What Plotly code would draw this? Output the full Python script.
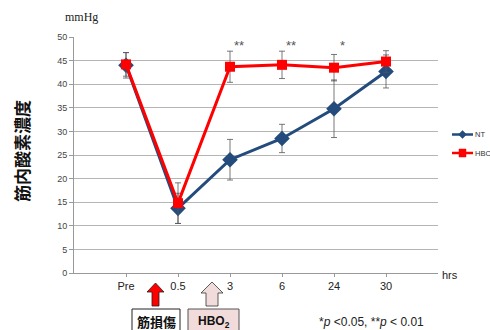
import plotly.graph_objects as go

W, H = 490, 330
L, R, T, B = 74, 52, 37, 57

categories = ["Pre", "0.5", "3", "6", "24", "30"]
nt_values = [44.0, 13.7, 24.0, 28.5, 34.8, 42.7]
nt_errors = [2.7, 3.2, 4.3, 3.0, 6.1, 3.5]
hbc_values = [44.2, 14.8, 43.7, 44.1, 43.5, 44.8]
hbc_errors = [2.5, 4.3, 3.3, 2.9, 2.8, 2.3]
sig_labels = ["", "", "**", "**", "*", ""]
y_ticks = [0, 5, 10, 15, 20, 25, 30, 35, 40, 45, 50]

NT_COLOR = "#234B7C"
HBC_COLOR = "#FF0000"

xpos = list(range(len(categories)))


def px(x):
    return (x - L) / (W - L - R)


def py(y):
    return 1 - (y - T) / (H - T - B)


fig = go.Figure()
fig.add_trace(go.Scatter(
    x=xpos, y=nt_values, name="NT", mode="lines+markers",
    line=dict(color=NT_COLOR, width=3),
    marker=dict(symbol="diamond", size=12, color=NT_COLOR),
    error_y=dict(type="data", array=nt_errors, color="#555555", thickness=0.8, width=3),
))
fig.add_trace(go.Scatter(
    x=xpos, y=hbc_values, name="HBC", mode="lines+markers",
    line=dict(color=HBC_COLOR, width=3),
    marker=dict(symbol="square", size=10, color=HBC_COLOR),
    error_y=dict(type="data", array=hbc_errors, color="#555555", thickness=0.8, width=3),
))

for i, s in enumerate(sig_labels):
    if s:
        fig.add_annotation(x=xpos[i] + 0.17, y=48.3, text=s, showarrow=False,
                           xanchor="center", yanchor="middle",
                           font=dict(size=13, color="#555555", family="Liberation Sans"))


def arrow_path(cx, top, bot, hw, sw, hh):
    return (f"M {px(cx)} {py(top)} L {px(cx+hw)} {py(top+hh)} L {px(cx+sw)} {py(top+hh)} "
            f"L {px(cx+sw)} {py(bot)} L {px(cx-sw)} {py(bot)} L {px(cx-sw)} {py(top+hh)} "
            f"L {px(cx-hw)} {py(top+hh)} Z")


shapes = []
shapes.append(dict(type="path", xref="paper", yref="paper",
                   path=arrow_path(155.5, 283, 306, 8.5, 3.5, 9),
                   fillcolor="#FF0000", line=dict(color="#222222", width=0.8)))
shapes.append(dict(type="path", xref="paper", yref="paper",
                   path=arrow_path(212, 282, 306, 11, 6, 11),
                   fillcolor="#F2DCDB", line=dict(color="#333333", width=0.8)))
shapes.append(dict(type="rect", xref="paper", yref="paper",
                   x0=px(132), x1=px(180), y0=py(309), y1=py(336),
                   fillcolor="#FFFFFF", line=dict(color="#222222", width=1)))
shapes.append(dict(type="rect", xref="paper", yref="paper",
                   x0=px(188), x1=px(239), y0=py(309), y1=py(336),
                   fillcolor="#F2DCDB", line=dict(color="#555555", width=1)))

# manual legend
leg = [("NT", NT_COLOR, "diamond", 134.5), ("HBC", HBC_COLOR, "square", 153)]
for name, col, sym, ly in leg:
    shapes.append(dict(type="line", xref="paper", yref="paper",
                       x0=px(452), x1=px(473), y0=py(ly), y1=py(ly),
                       line=dict(color=col, width=2.5)))
    if sym == "diamond":
        shapes.append(dict(type="path", xref="paper", yref="paper",
                           path=(f"M {px(462.5)} {py(ly-4)} L {px(466.5)} {py(ly)} "
                                 f"L {px(462.5)} {py(ly+4)} L {px(458.5)} {py(ly)} Z"),
                           fillcolor=col, line=dict(color=col, width=0.5)))
    else:
        shapes.append(dict(type="rect", xref="paper", yref="paper",
                           x0=px(459), x1=px(466), y0=py(ly-4), y1=py(ly+4),
                           fillcolor=col, line=dict(color=col, width=0.5)))
    fig.add_annotation(x=px(473), y=py(ly), xref="paper", yref="paper", text=name,
                       xanchor="left", yanchor="middle", showarrow=False,
                       font=dict(size=7.5, color="#333333", family="Liberation Sans"))

annotations = [
    dict(x=px(156), y=py(321), text="<b>筋損傷</b>",
         font=dict(size=13, color="#111111", family="Noto Sans CJK JP")),
    dict(x=px(213.5), y=py(322), text="<b>HBO<sub>2</sub></b>",
         font=dict(size=12, color="#111111", family="Liberation Sans")),
    dict(x=px(81), y=py(17), text="mmHg",
         font=dict(size=12, color="#222222", family="Liberation Serif")),
    dict(x=px(450), y=py(275), text="hrs",
         font=dict(size=11, color="#222222", family="Liberation Sans")),
    dict(x=px(371), y=py(322),
         text="*<i>p</i> <0.05, **<i>p</i> < 0.01",
         font=dict(size=12, color="#222222", family="Liberation Sans")),
    dict(x=px(21), y=py(151), text="<b>筋内酸素濃度</b>", textangle=-90,
         font=dict(size=17, color="#111111", family="Noto Sans CJK JP")),
]
for a in annotations:
    fig.add_annotation(xref="paper", yref="paper", showarrow=False,
                       xanchor="center", yanchor="middle", **a)

fig.update_layout(
    width=W, height=H,
    margin=dict(l=L, r=R, t=T, b=B, autoexpand=False),
    paper_bgcolor="white", plot_bgcolor="white",
    shapes=shapes,
    showlegend=False,
    xaxis=dict(range=[-1, len(categories)], tickmode="array", tickvals=xpos,
               ticktext=categories, showgrid=False, zeroline=False,
               showline=True, linecolor="#999999", linewidth=1,
               ticks="outside", ticklen=3, tickcolor="#999999", automargin=False,
               tickfont=dict(size=11, color="#222222", family="Liberation Sans")),
    yaxis=dict(range=[0, 50], tickvals=y_ticks, showgrid=True, gridcolor="#B5B5B5",
               gridwidth=1, zeroline=False, showline=True, linecolor="#999999",
               linewidth=1, ticks="outside", ticklen=4, tickcolor="#999999",
               automargin=False,
               tickfont=dict(size=9, color="#444444", family="Liberation Sans")),
)

fig.write_html("out.html", config={"displayModeBar": False},
               post_script="document.body.style.margin='0';document.body.style.padding='0';")
